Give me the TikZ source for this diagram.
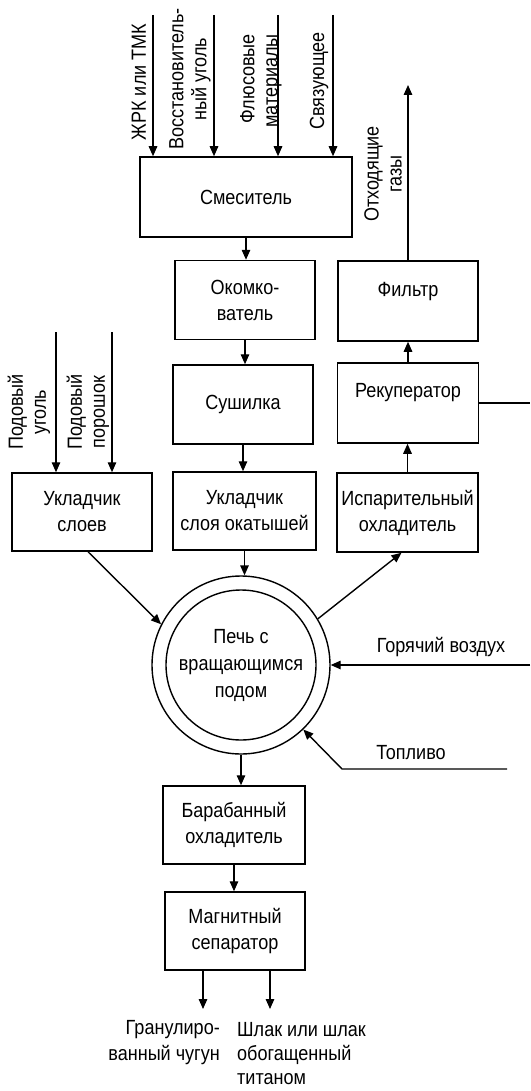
\documentclass[tikz,border=0pt]{standalone}
\usepackage{fontspec}
\setmainfont{Liberation Sans}[FakeStretch=0.88]
\usetikzlibrary{arrows.meta}
\newcommand\diagfont{\fontsize{20.5}{26}\selectfont}
\newcommand\rotfont{\fontsize{20.5}{23}\selectfont}
\begin{document}
\begin{tikzpicture}[x=1pt,y=-1pt,
  box/.style={draw, line width=1.5pt, inner sep=0pt, align=center, font=\diagfont},
  arr/.style={line width=1.4pt, -{Triangle[length=10pt,width=8.5pt]}},
  ln/.style={line width=1.4pt},
  lbl/.style={font=\diagfont, align=center, inner sep=0pt},
  rlbl/.style={font=\rotfont, align=center, inner sep=0pt, rotate=90},
]
\useasboundingbox (0,0) rectangle (530,1091);
% boxes
\node[box, minimum width=212pt, minimum height=80pt] (mix) at (246,197) {Смеситель};
\node[box, minimum width=140pt, minimum height=79pt] (okom) at (245,300) {Окомко-\\ватель};
\node[box, minimum width=140pt, minimum height=79pt] (sush) at (243,404.5) {Сушилка};
\node[box, minimum width=143pt, minimum height=78pt] (ukl2) at (244.5,511) {Укладчик\\слоя окатышей};
\node[box, minimum width=140pt, minimum height=80pt] (filt) at (408,301) {};
\node[lbl] (filttxt) at ([yshift=9pt]filt.center) {Фильтр};
\node[box, minimum width=141pt, minimum height=80pt] (rek) at (408,403) {};
\node[lbl] (rektxt) at ([yshift=10pt]rek.center) {Рекуператор};
\node[box, minimum width=141pt, minimum height=79pt] (isp) at (407.5,512.5) {Испарительный\\охладитель};
\node[box, minimum width=140pt, minimum height=78pt] (ukl1) at (82,512) {Укладчик\\слоев};
\node[circle, draw, line width=1.4pt, minimum size=178pt, inner sep=0pt] (furn) at (241,665) {};
\node[circle, draw, line width=1.4pt, minimum size=150pt, inner sep=0pt, align=center, font=\fontsize{20.5}{27}\selectfont] (furnin) at (furn.center) {Печь с\\вращающимся\\подом};
\node[box, minimum width=142pt, minimum height=78pt] (bar) at (234,825) {Барабанный\\охладитель};
\node[box, minimum width=140pt, minimum height=78pt] (mag) at (235,931) {Магнитный\\сепаратор};
% rotated labels
\node[rlbl] (l1) at (139,82) {ЖРК или ТМК};
\node[rlbl] (l2) at (190,79) {Восстановитель-\\ный уголь};
\node[rlbl, align=right] (l3) at (261,81) {Флюсовые\\материалы};
\node[rlbl] (l4) at (319,81) {Связующее};
\node[rlbl] (l5) at (383,174) {Отходящие\\газы};
\node[rlbl] (l6) at (29,412) {Подовый\\уголь};
\node[rlbl] (l7) at (88,412) {Подовый\\порошок};
% horizontal labels
\node[lbl] (hot) at (441,647) {Горячий воздух};
\node[lbl] (fuel) at (411,753) {Топливо};
\node[lbl, align=right, anchor=east, font=\fontsize{20.5}{26}\selectfont] (o1) at (220,1043) {Гранулиро-\\ванный чугун};
\node[lbl, align=left, anchor=west, font=\fontsize{20.5}{24}\selectfont] (o2) at (237,1054) {Шлак или шлак\\обогащенный\\титаном};
% coordinates
\coordinate (i1) at (153,15);
\coordinate (i2) at (214,15);
\coordinate (i3) at (278,15);
\coordinate (i4) at (333,15);
\coordinate (p1) at (56,332);
\coordinate (p2) at (112,332);
\coordinate (gas) at (408,85);
\coordinate (rekout) at (530,403);
\coordinate (hotin) at (530,665);
\coordinate (fuelin) at (507,769);
\coordinate (fuelbend) at (342,769);
\coordinate (o1c) at (203,1009);
\coordinate (o2c) at (270,1009);
% connectors
\foreach \c in {i1,i2,i3,i4} \draw[arr] (\c) -- (\c |- mix.north);
\foreach \c in {p1,p2} \draw[arr] (\c) -- (\c |- ukl1.north);
\draw[arr] (mix.south) -- (mix.south |- okom.north);
\draw[arr] (okom.south) -- (okom.south |- sush.north);
\draw[arr] (sush.south) -- (sush.south |- ukl2.north);
\draw[arr] (ukl2.south) -- (ukl2.south |- furn.north);
\draw[arr] (furn.south) -- (furn.south |- bar.north);
\draw[arr] (bar.south) -- (bar.south |- mag.north);
\draw[arr] (isp.north) -- (isp.north |- rek.south);
\draw[arr] (rek.north) -- (rek.north |- filt.south);
\draw[arr] (filt.north) -- (filt.north |- gas);
\draw[ln] (rek.east) -- (rekout);
\draw[arr] (hotin) -- (furn.east);
\draw[arr] (fuelin) -- (fuelbend) -- (furn.-46);
\draw[arr] ([xshift=6pt]ukl1.south) -- (furn.153);
\draw[arr] (furn.31) -- ([xshift=-6pt]isp.south);
\draw[arr] (o1c |- mag.south) -- (o1c);
\draw[arr] (o2c |- mag.south) -- (o2c);
\end{tikzpicture}
\end{document}
